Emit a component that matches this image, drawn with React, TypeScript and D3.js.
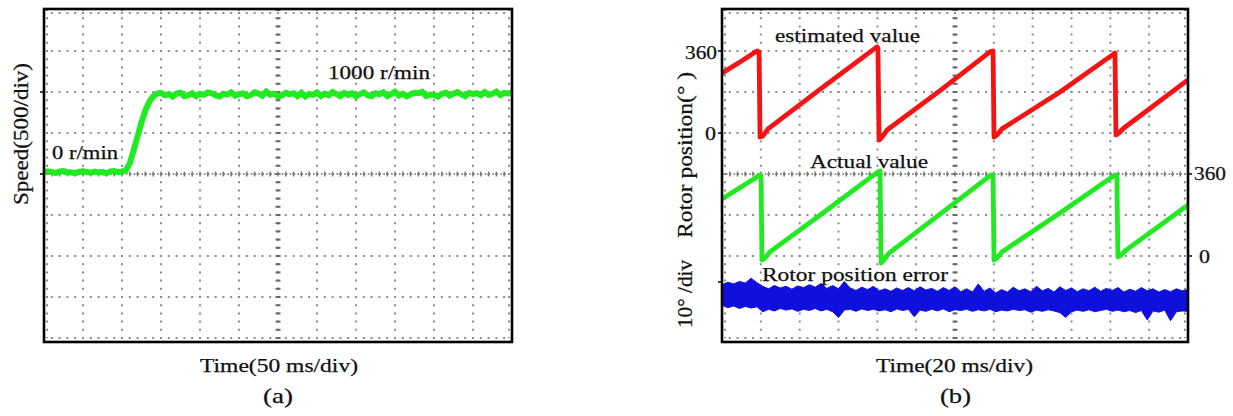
import React from "react";
import * as d3 from "d3";

// ---------- Data ----------
// (a) speed trace, sampled every 5 ms over 12 div x 50 ms
const speedStepMs = 5;
const speedValues = [
  20, 32, 26, 12, 30, 35, 18, 22, 8, 28, 33, 25, 15, 30, 20, 24, 10, 32, 36, 22, 30,
  45, 130, 290, 460, 630, 775, 880, 945, 980, 990,
  960, 975, 945, 980, 990, 950, 962, 985, 950, 978,
  965, 995, 985, 958, 945, 980, 968, 996, 955, 970,
  985, 948, 962, 995, 980, 955, 1005, 968, 980, 945,
  958, 990, 972, 985, 950, 990, 945, 975, 965, 995,
  952, 980, 960, 1000, 975, 950, 990, 965, 985, 945,
  975, 995, 960, 948, 985, 972, 995, 950, 975, 1002,
  955, 980, 948, 970, 990, 985, 1000, 950, 968, 965,
  945, 975, 992, 955, 980, 1000, 970, 948, 990, 975,
  985, 960, 1000, 965, 978, 1005, 962, 990, 980, 995,
];

// (b) estimated rotor position (deg) vs time (ms)
const redTimes = [0, 9.3, 18.0, 19.1, 19.6, 21.1, 23.7, 51.5, 79.8, 80.3, 80.9, 82.4, 85.0, 112.3, 138.0, 139.6, 140.1, 141.6, 144.2, 174.1, 200.9, 202.4, 202.9, 204.4, 207.0, 240];
const redDegrees = [263, 312, 360, 356, -18, -13, 18, 198, 378, 373, -31, -18, 13, 186, 356, 360, -18, -9, 18, 180, 342, 351, -9, 0, 22, 233];

// (b) actual rotor position (deg) vs time (ms)
const greenTimes = [0, 9.8, 19.6, 20.1, 20.6, 22.1, 24.7, 52.0, 80.3, 81.4, 81.9, 83.4, 86.0, 112.3, 138.6, 139.6, 140.1, 141.6, 144.2, 174.1, 202.4, 203.4, 203.9, 205.5, 208.1, 240];
const greenDegrees = [250, 303, 356, 351, -18, -9, 18, 189, 369, 373, -31, -18, 13, 184, 356, 356, -18, -9, 18, 189, 356, 351, -4, 4, 26, 224];

// (b) rotor position error envelope (deg), every 3 ms
const errorStepMs = 3;
const errorUpper = [
  3.0, 3.6, 3.2, 3.8, 3.4, 4.6, 3.5, 2.6, 2.0, 2.8,
  2.2, 2.6, 1.9, 2.7, 2.3, 3.0, 2.4, 3.3, 2.1, 2.8,
  2.0, 3.8, 2.2, 1.6, 2.4, 1.8, 2.6, 1.5, 2.0, 1.4,
  2.2, 1.6, 2.3, 1.5, 2.5, 1.7, 2.1, 1.4, 2.3, 1.6,
  2.5, 1.3, 2.0, 1.2, 3.2, 1.4, 2.2, 1.0, 1.8, 1.2,
  2.4, 1.5, 2.0, 1.3, 2.6, 1.5, 2.1, 1.2, 2.5, 1.6,
  2.2, 1.3, 2.0, 1.5, 2.4, 1.4, 2.1, 1.6, 2.3, 1.2,
  1.9, 1.4, 2.3, 1.5, 2.0, 1.2, 1.8, 1.3, 2.0, 1.5,
  1.8,
];
const errorLower = [
  -2.0, -2.6, -2.2, -2.8, -2.3, -2.7, -2.4, -3.6, -3.0, -3.4,
  -2.8, -3.2, -2.9, -3.5, -3.0, -3.3, -2.8, -3.4, -3.0, -3.6,
  -5.0, -3.2, -3.0, -3.5, -2.9, -3.3, -3.0, -3.4, -3.1, -3.6,
  -2.9, -3.3, -3.0, -4.8, -3.2, -3.5, -3.0, -3.4, -2.9, -3.6,
  -3.1, -3.3, -3.0, -3.5, -3.1, -3.4, -3.0, -3.6, -3.2, -3.4,
  -3.0, -3.3, -3.1, -3.7, -3.2, -3.5, -3.1, -3.4, -3.8, -5.0,
  -3.6, -3.2, -3.5, -3.1, -3.6, -3.3, -3.0, -3.5, -3.2, -3.6,
  -3.3, -3.8, -3.3, -5.6, -3.4, -3.7, -3.2, -5.8, -3.6, -3.4,
  -3.5,
];

// ---------- Styling ----------
const FONT = "Liberation Serif, Tinos, Times New Roman, serif";
const GREEN = "#22ea22";
const RED = "#f41414";
const BLUE = "#1010dc";
const DOT = "#8c8c8c";

const TOP = 10;
const BOTTOM = 338;
const FRAME_BOTTOM = 342;
const COLS = 12;
const ROWS = 8;

function Graticule({ x0, x1 }: { x0: number; x1: number }) {
  const gx = d3.scaleLinear().domain([0, COLS]).range([x0, x1]);
  const gy = d3.scaleLinear().domain([0, ROWS]).range([TOP, BOTTOM]);
  const colW = (x1 - x0) / COLS;
  const rowH = (BOTTOM - TOP) / ROWS;
  const cx = gx(COLS / 2);
  const cy = gy(ROWS / 2);
  const items: React.ReactNode[] = [];
  d3.range(0, COLS + 1).forEach((i) => {
    let x = gx(i);
    if (i === 0) x += 3;
    if (i === COLS) x -= 3;
    items.push(
      <line key={"v" + i} x1={x} x2={x} y1={TOP} y2={BOTTOM}
        stroke={DOT} strokeWidth={2}
        strokeDasharray={`2 ${rowH / 5 - 2}`} strokeDashoffset={1} />
    );
  });
  d3.range(0, ROWS + 1).forEach((j) => {
    let y = gy(j);
    if (j === 0) y += 3;
    items.push(
      <line key={"h" + j} x1={x0} x2={x1} y1={y} y2={y}
        stroke={DOT} strokeWidth={2}
        strokeDasharray={`2 ${colW / 5 - 2}`} strokeDashoffset={1} />
    );
  });
  // centre vertical: short horizontal tick marks
  d3.range(0, ROWS * 5 + 1).forEach((k) => {
    const y = TOP + (k * rowH) / 5;
    items.push(
      <line key={"cv" + k} x1={cx - 2.5} x2={cx + 2.5} y1={y} y2={y} stroke="#6a6a6a" strokeWidth={2} />
    );
  });
  // centre horizontal: denser dots + small vertical ticks
  items.push(
    <line key="chd" x1={x0} x2={x1} y1={cy} y2={cy} stroke={DOT} strokeWidth={2}
      strokeDasharray={`1.6 ${colW / 10 - 1.6}`} />
  );
  d3.range(0, COLS * 5 + 1).forEach((k) => {
    const x = x0 + (k * colW) / 5;
    items.push(
      <line key={"ch" + k} x1={x} x2={x} y1={cy - 2.5} y2={cy + 2.5} stroke="#7a7a7a" strokeWidth={1.5} />
    );
  });
  return <g>{items}</g>;
}

function Label({ x, y, text, size = 19, len, rotate = false }:
  { x: number; y: number; text: string; size?: number; len?: number; rotate?: boolean }) {
  return (
    <text
      x={rotate ? 0 : x}
      y={rotate ? 0 : y}
      transform={rotate ? `translate(${x},${y}) rotate(-90)` : undefined}
      style={{ fontFamily: FONT, fontSize: size }}
      fill="#111"
      stroke="#111"
      strokeWidth={0.25}
      textLength={len}
      lengthAdjust={len ? "spacingAndGlyphs" : undefined}
    >
      {text}
    </text>
  );
}

export default function App() {
  // ---- panel (a) ----
  const xA = d3.scaleLinear().domain([0, 600]).range([44, 512]);
  const yA = d3.scaleLinear().domain([-2000, 2000]).range([BOTTOM, TOP]);
  const speedLine = d3
    .line<number>()
    .x((_, i) => xA(i * speedStepMs))
    .y((v) => yA(v))(speedValues) as string;

  // ---- panel (b) ----
  const xB = d3.scaleLinear().domain([0, 240]).range([722, 1188]);
  const yRed = d3.scaleLinear().domain([0, 360]).range([133, 51]);
  const yGreen = d3.scaleLinear().domain([0, 360]).range([256, 174]);
  const yErr = d3.scaleLinear().domain([-10, 10]).range([338, 256]);

  const redLine = d3
    .line<number>()
    .x((_, i) => xB(redTimes[i]))
    .y((v) => yRed(v))(redDegrees) as string;
  const greenLine = d3
    .line<number>()
    .x((_, i) => xB(greenTimes[i]))
    .y((v) => yGreen(v))(greenDegrees) as string;
  const errArea = d3
    .area<number>()
    .x((_, i) => xB(i * errorStepMs))
    .y0((_, i) => yErr(errorLower[i]))
    .y1((v) => yErr(v))(errorUpper) as string;

  return (
    <svg width={1233} height={416} style={{ position: "absolute", left: 0, top: 0, background: "#fff" }}>
      <rect x={0} y={0} width={1233} height={416} fill="#fff" />

      {/* ===== Panel (a) ===== */}
      <Graticule x0={44} x1={512} />
      <path d={speedLine} fill="none" stroke={GREEN} strokeWidth={6} strokeLinejoin="miter" />
      <rect x={44} y={9} width={468} height={FRAME_BOTTOM - 9} fill="none" stroke="#000" strokeWidth={2.6} />
      {[1000, 0].map((v) => (
        <line key={v} x1={40} x2={44} y1={yA(v)} y2={yA(v)} stroke="#000" strokeWidth={1.5} />
      ))}
      <Label x={52} y={159} text="0 r/min" len={66} />
      <Label x={328} y={79} text="1000 r/min" len={102} />
      <Label x={28} y={205} text="Speed(500/div)" size={20} len={142} rotate />
      <Label x={200} y={372} text="Time(50 ms/div)" len={158} />
      <Label x={263} y={403} text="(a)" size={22} len={30} />

      {/* ===== Panel (b) ===== */}
      <Graticule x0={722} x1={1188} />
      <path d={redLine} fill="none" stroke={RED} strokeWidth={4.8} strokeLinejoin="round" />
      <path d={greenLine} fill="none" stroke={GREEN} strokeWidth={4.8} strokeLinejoin="round" />
      <path d={errArea} fill={BLUE} stroke={BLUE} strokeWidth={1} strokeLinejoin="miter" />
      <rect x={722} y={9} width={466} height={FRAME_BOTTOM - 9} fill="none" stroke="#000" strokeWidth={2.6} />
      {[360, 0].map((v) => (
        <line key={"lr" + v} x1={718} x2={722} y1={yRed(v)} y2={yRed(v)} stroke="#000" strokeWidth={1.5} />
      ))}
      <line x1={718} x2={722} y1={282} y2={282} stroke="#000" strokeWidth={1.5} />
      {[360, 0].map((v) => (
        <line key={"rg" + v} x1={1188} x2={1192} y1={yGreen(v)} y2={yGreen(v)} stroke="#000" strokeWidth={1.5} />
      ))}
      <Label x={685} y={58.5} text="360" len={32} />
      <Label x={705} y={140} text="0" len={11} />
      <Label x={1194} y={180} text="360" len={32} />
      <Label x={1199} y={263} text="0" len={11} />
      <Label x={775} y={42} text="estimated value" len={145} />
      <Label x={810} y={168} text="Actual value" len={118} />
      <Label x={762} y={281} text="Rotor position error" len={186} />
      <Label x={692} y={238} text="Rotor position(° )" size={20} len={166} rotate />
      <Label x={692} y={328} text="10° /div" size={20} len={68} rotate />
      <Label x={876} y={372} text="Time(20 ms/div)" len={157} />
      <Label x={940} y={403} text="(b)" size={22} len={31} />
    </svg>
  );
}
